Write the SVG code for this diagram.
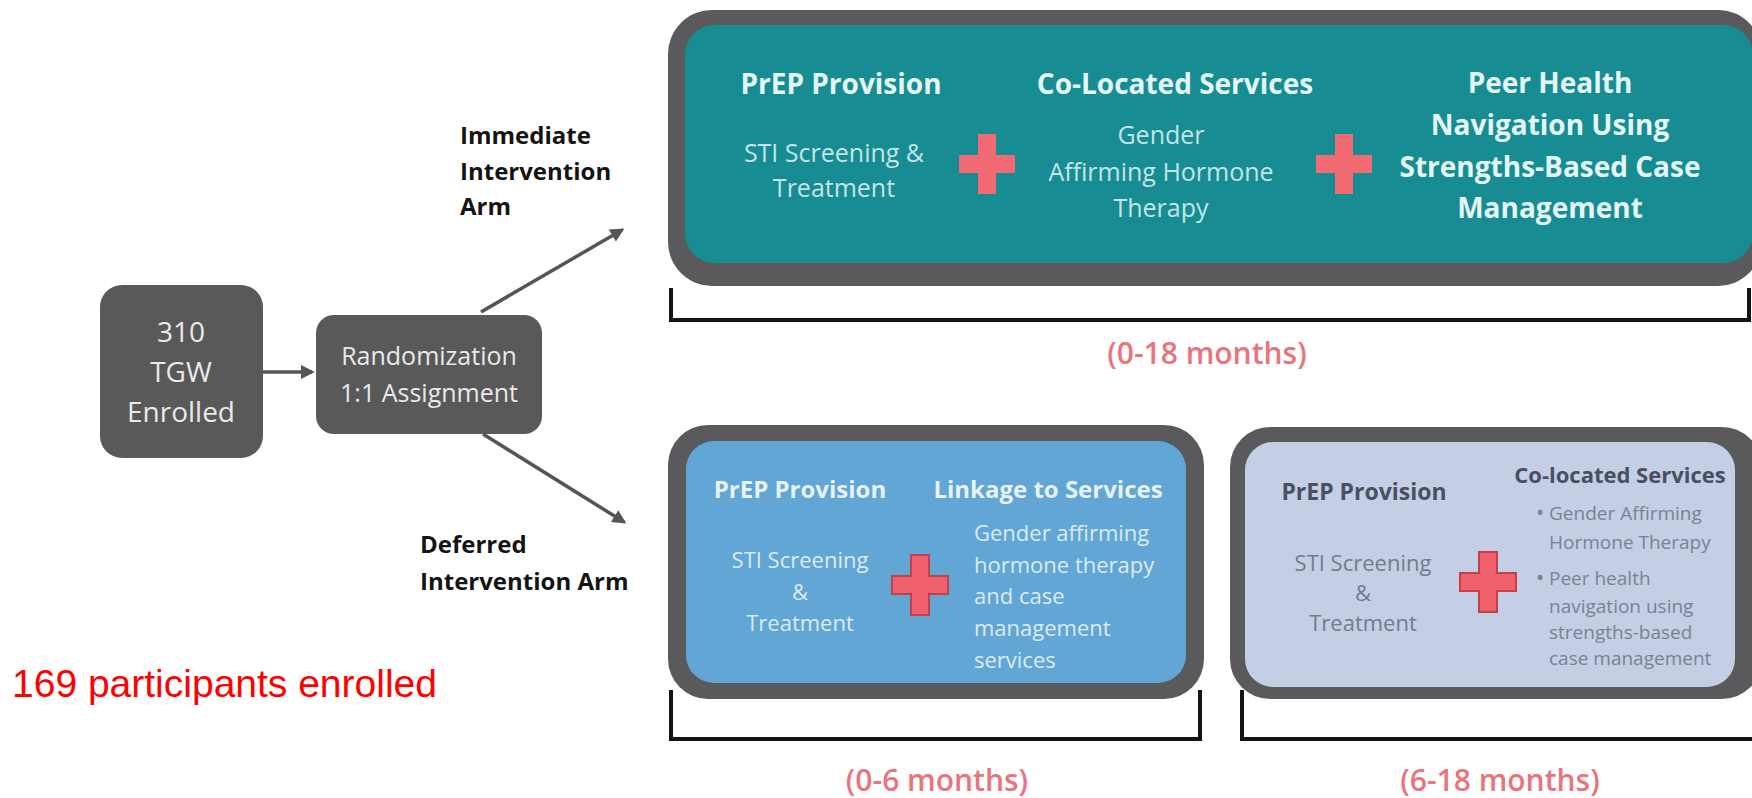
<svg xmlns="http://www.w3.org/2000/svg" width="1752" height="798" viewBox="0 0 1752 798">
  <style>
    text { font-family: "Open Sans", "Liberation Sans", sans-serif; }
    .frame { fill: #5a5a5c; }
    .dark { fill: #595959; }
    .boxlbl { fill: #e9e9e9; font-size: 28px; text-anchor: middle; }
    .armlbl { fill: #141414; font-size: 24px; font-weight: 700; }
    .h-teal { fill: #e4f6f6; font-size: 28px; font-weight: 700; text-anchor: middle; }
    .b-teal { fill: #c3e4e7; font-size: 25px; text-anchor: middle; }
    .h-blue { fill: #e8f2f9; font-size: 24px; font-weight: 700; text-anchor: middle; }
    .b-blue { fill: #dcebf6; font-size: 22px; }
    .h-lav { fill: #4a5062; font-size: 23px; font-weight: 700; text-anchor: middle; }
    .b-lav { fill: #767b8b; font-size: 22px; }
    .s-lav { fill: #7c8292; font-size: 19px; }
    .period { fill: #e8757d; font-size: 30px; font-weight: 600; text-anchor: middle; }
    .bracket { fill: none; stroke: #141414; stroke-width: 4; }
    .conn { stroke: #555555; stroke-width: 3.5; fill: none; marker-end: url(#tip); }
    .plus-a { fill: #f26b74; }
    .plus-b { fill: #f0606b; stroke: #c4404b; stroke-width: 2; }
  </style>
  <defs>
    <marker id="tip" viewBox="0 0 10 10" refX="8" refY="5" markerWidth="4" markerHeight="4" orient="auto" markerUnits="strokeWidth">
      <path d="M0,0 L10,5 L0,10 Z" fill="#555555"/>
    </marker>
    <!-- plus glyph centred on 0,0 -->
    <path id="plus" d="M-9,-30 H9 V-9 H28 V9 H9 V30 H-9 V9 H-28 V-9 H-9 Z"/>
  </defs>

  <rect width="1752" height="798" fill="#ffffff"/>

  <!-- enrolment -->
  <g id="node-enrolled">
    <rect class="dark" x="100" y="285" width="163" height="173" rx="22"/>
    <text class="boxlbl" x="181" y="342">310</text>
    <text class="boxlbl" x="181" y="382">TGW</text>
    <text class="boxlbl" x="181" y="422">Enrolled</text>
  </g>

  <g id="node-randomization">
    <rect class="dark" x="316" y="315" width="226" height="119" rx="18"/>
    <text class="boxlbl" x="429" y="365" style="font-size:25px">Randomization</text>
    <text class="boxlbl" x="429" y="402" style="font-size:25px">1:1 Assignment</text>
  </g>

  <g id="connectors">
    <line class="conn" x1="263" y1="372" x2="312" y2="372"/>
    <line class="conn" x1="481" y1="312" x2="622" y2="230"/>
    <line class="conn" x1="483" y1="434" x2="624" y2="522"/>
  </g>

  <g id="label-immediate">
    <text class="armlbl" x="460" y="144">Immediate</text>
    <text class="armlbl" x="460" y="180">Intervention</text>
    <text class="armlbl" x="460" y="215">Arm</text>
  </g>

  <g id="label-deferred">
    <text class="armlbl" x="420" y="553">Deferred</text>
    <text class="armlbl" x="420" y="590">Intervention Arm</text>
  </g>

  <text id="label-participants" x="12" y="697" fill="#ff0000" font-size="39" style="font-family:'Liberation Sans', Arial, sans-serif">169 participants enrolled</text>

  <!-- immediate arm, 0-18 months -->
  <g id="node-immediate">
    <rect class="frame" x="668" y="10" width="1094" height="276" rx="44"/>
    <rect x="685" y="25" width="1068" height="238" rx="30" fill="#178d93"/>
    <text class="h-teal" x="841" y="94">PrEP Provision</text>
    <text class="b-teal" x="834" y="162">STI Screening &amp;</text>
    <text class="b-teal" x="834" y="197">Treatment</text>
    <use href="#plus" class="plus-a" x="987" y="164"/>
    <text class="h-teal" x="1175" y="94">Co-Located Services</text>
    <text class="b-teal" x="1161" y="144">Gender</text>
    <text class="b-teal" x="1161" y="181">Affirming Hormone</text>
    <text class="b-teal" x="1161" y="217">Therapy</text>
    <use href="#plus" class="plus-a" x="1344" y="164"/>
    <text class="h-teal" x="1550" y="93">Peer Health</text>
    <text class="h-teal" x="1550" y="135">Navigation Using</text>
    <text class="h-teal" x="1550" y="177">Strengths-Based Case</text>
    <text class="h-teal" x="1550" y="218">Management</text>
  </g>
  <g id="period-immediate">
    <path class="bracket" d="M671,288 V320 H1749 V288"/>
    <text class="period" x="1207" y="364">(0-18 months)</text>
  </g>

  <!-- deferred arm, 0-6 months -->
  <g id="node-deferred-early">
    <rect class="frame" x="668" y="425" width="536" height="274" rx="40"/>
    <rect x="686" y="441" width="500" height="242" rx="28" fill="#61a6d4"/>
    <text class="h-blue" x="800" y="498">PrEP Provision</text>
    <text class="h-blue" x="1048" y="498">Linkage to Services</text>
    <text class="b-blue" x="800" y="568" text-anchor="middle">STI Screening</text>
    <text class="b-blue" x="800" y="600" text-anchor="middle">&amp;</text>
    <text class="b-blue" x="800" y="631" text-anchor="middle">Treatment</text>
    <use href="#plus" class="plus-b" x="920" y="585"/>
    <text class="b-blue" x="974" y="541">Gender affirming</text>
    <text class="b-blue" x="974" y="573">hormone therapy</text>
    <text class="b-blue" x="974" y="604">and case</text>
    <text class="b-blue" x="974" y="636">management</text>
    <text class="b-blue" x="974" y="668">services</text>
  </g>
  <g id="period-deferred-early">
    <path class="bracket" d="M671,690 V739 H1200 V690"/>
    <text class="period" x="937" y="791">(0-6 months)</text>
  </g>

  <!-- deferred arm, 6-18 months -->
  <g id="node-deferred-late">
    <rect class="frame" x="1230" y="427" width="532" height="272" rx="40"/>
    <rect x="1245" y="442" width="490" height="245" rx="28" fill="#c4cee4"/>
    <text class="h-lav" x="1364" y="500">PrEP Provision</text>
    <text class="b-lav" x="1363" y="571" text-anchor="middle">STI Screening</text>
    <text class="b-lav" x="1363" y="601" text-anchor="middle">&amp;</text>
    <text class="b-lav" x="1363" y="631" text-anchor="middle">Treatment</text>
    <use href="#plus" class="plus-b" x="1488" y="582"/>
    <text class="h-lav" x="1620" y="483" style="font-size:22px">Co-located Services</text>
    <text class="s-lav" x="1536" y="520" style="font-size:22px">•</text>
    <text class="s-lav" x="1549" y="520">Gender Affirming</text>
    <text class="s-lav" x="1549" y="549">Hormone Therapy</text>
    <text class="s-lav" x="1536" y="585" style="font-size:22px">•</text>
    <text class="s-lav" x="1549" y="585">Peer health</text>
    <text class="s-lav" x="1549" y="613">navigation using</text>
    <text class="s-lav" x="1549" y="639">strengths-based</text>
    <text class="s-lav" x="1549" y="665">case management</text>
  </g>
  <g id="period-deferred-late">
    <path class="bracket" d="M1242,690 V739 H1752"/>
    <text class="period" x="1500" y="791">(6-18 months)</text>
  </g>
</svg>
